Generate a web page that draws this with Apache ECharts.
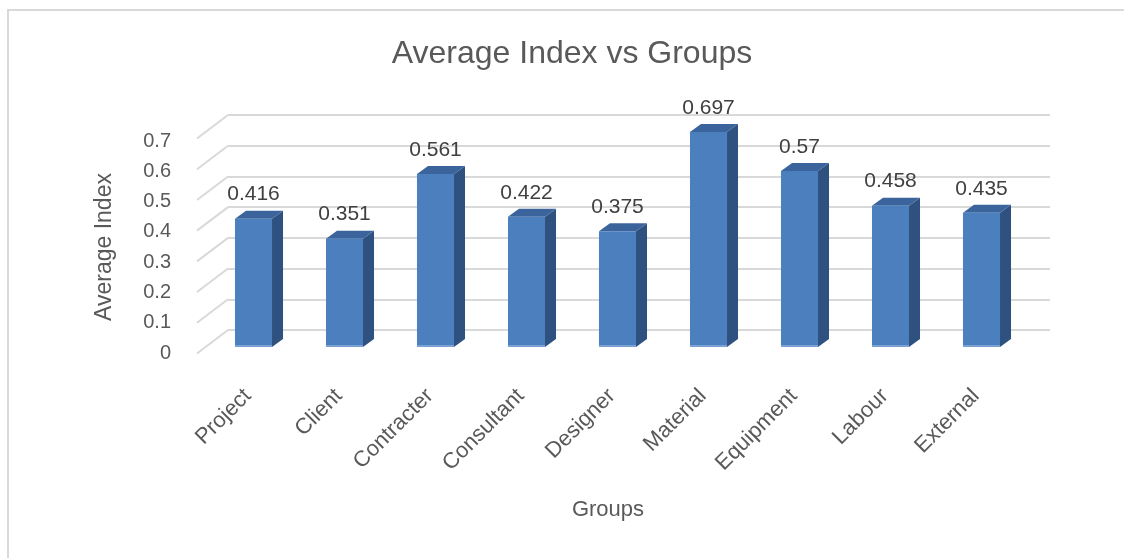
<!DOCTYPE html>
<html>
<head>
<meta charset="utf-8">
<script src="https://cdn.jsdelivr.net/npm/echarts@6/dist/echarts.min.js"></script>
<style>
html,body{margin:0;padding:0;background:#fff;}
#chart{width:1124px;height:558px;}
</style>
</head>
<body>
<div id="chart"></div>
<script>
var categories = ['Project','Client','Contracter','Consultant','Designer','Material','Equipment','Labour','External'];
var averageIndex = [0.416, 0.351, 0.561, 0.422, 0.375, 0.697, 0.57, 0.458, 0.435];
var yTicks = [0, 0.1, 0.2, 0.3, 0.4, 0.5, 0.6, 0.7];

var FONT = 'Liberation Sans';
var GRID_COLOR = '#d9d9d9';
var DEPTH_X = 11, DEPTH_Y = -8;
var SLANT_X = -31, SLANT_Y = 23.5;

var chart = echarts.init(document.getElementById('chart'), null, {renderer: 'canvas'});

var option = {
  backgroundColor: '#ffffff',
  animation: false,
  title: [
    {text: 'Average Index vs Groups', left: 567, top: 33, textAlign: 'center',
     textStyle: {fontFamily: FONT, fontSize: 32, fontWeight: 'normal', color: '#595959'}},
    {text: 'Groups', left: 603, top: 494, textAlign: 'center',
     textStyle: {fontFamily: FONT, fontSize: 22, fontWeight: 'normal', color: '#595959'}}
  ],
  graphic: [
    {type: 'rect', shape: {x: 8, y: 10, width: 1300, height: 700},
     style: {fill: 'none', stroke: GRID_COLOR, lineWidth: 2}, silent: true, z: -1}
  ],
  grid: [
    {left: 228, right: 74, top: 115, bottom: 228},
    {left: 208, right: 97, top: 131, bottom: 211},
    {left: 197, width: 10, top: 141, bottom: 205}
  ],
  xAxis: [
    {gridIndex: 0, type: 'category', data: categories, show: false},
    {gridIndex: 1, type: 'category', data: categories,
     axisLine: {show: false}, axisTick: {show: false},
     axisLabel: {rotate: 45, margin: 40, padding: [0, 8, 0, 0], fontFamily: FONT, fontSize: 22, color: '#595959', interval: 0}},
    {gridIndex: 2, type: 'category', data: ['a'], show: false}
  ],
  yAxis: [
    {gridIndex: 0, type: 'value', min: 0, max: 0.7, interval: 0.1,
     axisLine: {show: false}, axisTick: {show: false}, axisLabel: {show: false},
     splitLine: {show: true, lineStyle: {color: GRID_COLOR, width: 2}}},
    {gridIndex: 1, type: 'value', min: 0, max: 0.7, interval: 0.1, show: false, splitLine: {show: false}},
    {gridIndex: 2, type: 'value', min: 0, max: 0.7, interval: 0.1,
     axisLine: {show: false}, axisTick: {show: false}, splitLine: {show: false},
     axisLabel: {margin: 26, fontFamily: FONT, fontSize: 20, color: '#595959'},
     name: 'Average Index', nameLocation: 'middle', nameGap: 81, nameRotate: 90,
     nameTextStyle: {fontFamily: FONT, fontSize: 23, color: '#595959'}}
  ],
  series: [
    {
      type: 'custom', xAxisIndex: 0, yAxisIndex: 0, z: 2,
      data: yTicks.map(function (v) { return [0, v]; }),
      renderItem: function (params, api) {
        var cs = params.coordSys;
        var yb = api.coord([0, api.value(1)])[1];
        return {
          type: 'line',
          shape: {x1: cs.x + SLANT_X, y1: yb + SLANT_Y, x2: cs.x, y2: yb},
          style: {stroke: GRID_COLOR, lineWidth: 2}
        };
      }
    },
    {
      type: 'custom', xAxisIndex: 1, yAxisIndex: 1, z: 5,
      data: averageIndex.map(function (v, i) { return [i, v]; }),
      renderItem: function (params, api) {
        var i = api.value(0), v = api.value(1);
        var top = api.coord([i, v]);
        var bot = api.coord([i, 0]);
        var w = api.size([1, 0])[0] * 0.407;
        var x0 = top[0] - w / 2, x1 = top[0] + w / 2;
        var yt = top[1], yb = bot[1];
        return {
          type: 'group',
          children: [
            {type: 'polygon', shape: {points: [[x1, yt], [x1 + DEPTH_X, yt + DEPTH_Y], [x1 + DEPTH_X, yb + DEPTH_Y], [x1, yb]]},
             style: {fill: '#2f5180'}},
            {type: 'polygon', shape: {points: [[x0, yt], [x1, yt], [x1 + DEPTH_X, yt + DEPTH_Y], [x0 + DEPTH_X, yt + DEPTH_Y]]},
             style: {fill: '#3b649c'}},
            {type: 'rect', shape: {x: x0, y: yt, width: w, height: yb - yt},
             style: {fill: '#4c7fbd'}},
            {type: 'rect', shape: {x: x0, y: yb - 2, width: w, height: 2},
             style: {fill: '#7ba2d4'}},
            {type: 'text', x: top[0], y: yt - 24,
             style: {text: String(v), textAlign: 'center', textVerticalAlign: 'middle',
                     fontFamily: FONT, fontSize: 21, fill: '#404040'}}
          ]
        };
      }
    }
  ]
};
chart.setOption(option);
</script>
</body>
</html>
